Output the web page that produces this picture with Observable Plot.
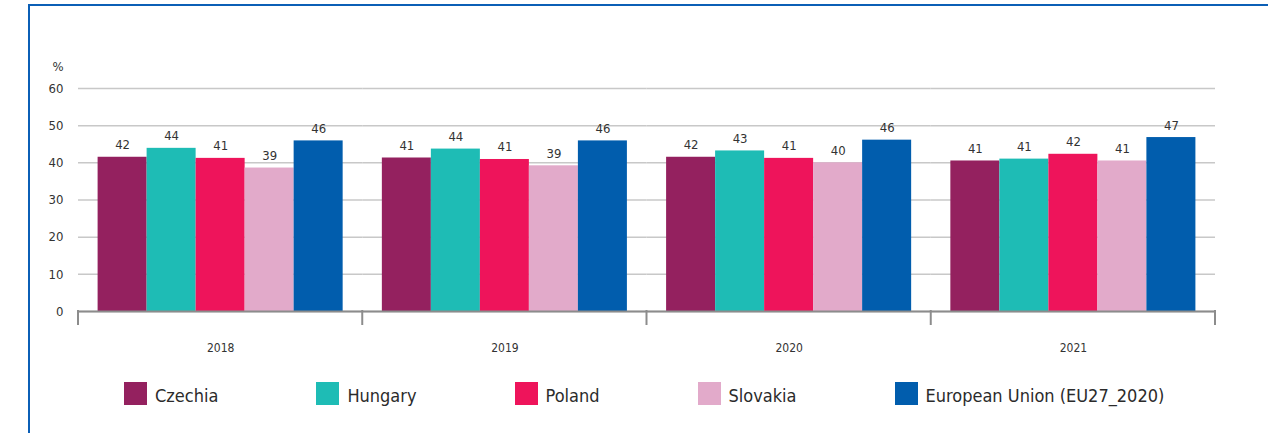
<!DOCTYPE html>
<html><head><meta charset="utf-8">
<script src="https://cdn.jsdelivr.net/npm/d3@7"></script>
<script src="https://cdn.jsdelivr.net/npm/@observablehq/plot@0.6"></script>
<style>
body{margin:0;background:#fff;width:1272px;height:433px;overflow:hidden;position:relative;font-family:"DejaVu Sans",sans-serif;font-stretch:condensed;}
#frame{position:absolute;left:28px;top:4px;width:1238px;height:440px;border-top:2.5px solid #0b5fb6;border-left:2.5px solid #0b5fb6;}
#chart{position:absolute;left:0;top:0}
#chart svg text{font-stretch:condensed}
#legend{position:absolute;left:124px;top:382px;display:flex;gap:98px;align-items:center;font-size:18px;color:#2b2b2b}
.item{display:flex;align-items:center;gap:8px}
.sw{width:23px;height:23px}
.lt{position:relative;top:2px}
</style></head><body>
<div id="frame"></div><div id="chart"></div><div id="legend"></div>
<script>
const years = ["2018", "2019", "2020", "2021"];
const countries = ["Czechia", "Hungary", "Poland", "Slovakia", "European Union (EU27_2020)"];
const colors = ["#94215f", "#1ebcb5", "#ee145b", "#e2aaca", "#015dad"];
const yTicks = [0, 10, 20, 30, 40, 50, 60];

// bar heights and printed labels, per country, years 2018..2021
const czechiaValues = [41.5, 41.3, 41.5, 40.5];
const hungaryValues = [43.9, 43.7, 43.2, 41.0];
const polandValues = [41.2, 40.9, 41.2, 42.3];
const slovakiaValues = [38.6, 39.2, 40.0, 40.5];
const euValues = [45.9, 45.9, 46.1, 46.8];

const czechiaLabels = ["42", "41", "42", "41"];
const hungaryLabels = ["44", "44", "43", "41"];
const polandLabels = ["41", "41", "41", "42"];
const slovakiaLabels = ["39", "39", "40", "41"];
const euLabels = ["46", "46", "46", "47"];

const seriesValues = [czechiaValues, hungaryValues, polandValues, slovakiaValues, euValues];
const seriesLabels = [czechiaLabels, hungaryLabels, polandLabels, slovakiaLabels, euLabels];

const data = [];
years.forEach((yr, i) => {
  countries.forEach((c, j) => {
    data.push({year: yr, country: c, value: seriesValues[j][i], label: seriesLabels[j][i]});
  });
});

const font = '"DejaVu Sans",sans-serif';

const chart = Plot.plot({
  width: 1272,
  height: 365,
  marginLeft: 78,
  marginRight: 57,
  marginTop: 88,
  marginBottom: 54,
  style: {fontFamily: font, fontSize: "13px", color: "#333", background: "transparent"},
  fx: {domain: years, padding: 0, label: null, round: false},
  x: {domain: countries, paddingInner: 0, paddingOuter: 0.4, axis: null, round: false},
  y: {domain: [0, 60], label: null},
  color: {domain: countries, range: colors},
  marks: [
    Plot.gridY(yTicks, {stroke: "#c8c8c8", strokeOpacity: 1, strokeWidth: 1.5}),
    Plot.axisY(yTicks, {tickSize: 0, tickPadding: 15, label: null, fontSize: 13, fill: "#333"}),
    Plot.axisFx({anchor: "bottom", tickSize: 0, tickPadding: 32, label: null, fontSize: 12, fill: "#333"}),
    Plot.barY(data, {fx: "year", x: "country", y: "value", fill: "country"}),
    Plot.text(data, {fx: "year", x: "country", y: "value", text: "label", lineAnchor: "bottom", dy: -8, fontSize: 13, fill: "#333"}),
    Plot.ruleY([0], {stroke: "#8c8c8c", strokeWidth: 2})
  ]
});

// group separator ticks below the baseline, placed with the fx and y scales
const fxs = chart.scale("fx"), ys = chart.scale("y");
const svg = d3.select(chart);
const edges = years.map(yr => fxs.apply(yr));
edges.push(fxs.apply(years[years.length - 1]) + fxs.bandwidth);
const y0 = ys.apply(0);
svg.append("g").selectAll("line").data(edges).join("line")
  .attr("x1", d => d).attr("x2", d => d)
  .attr("y1", y0 - 1).attr("y2", y0 + 14)
  .attr("stroke", "#8c8c8c").attr("stroke-width", 2);
svg.append("text")
  .attr("x", edges[0] - 20).attr("y", ys.apply(60) - 17)
  .attr("text-anchor", "middle").attr("fill", "#333")
  .style("font-size", "13px").text("%");

document.getElementById("chart").appendChild(chart);

const legend = d3.select("#legend");
countries.forEach((c, j) => {
  const it = legend.append("div").attr("class", "item");
  it.append("div").attr("class", "sw").style("background", colors[j]);
  it.append("span").attr("class", "lt").text(c);
});
</script>
</body></html>
